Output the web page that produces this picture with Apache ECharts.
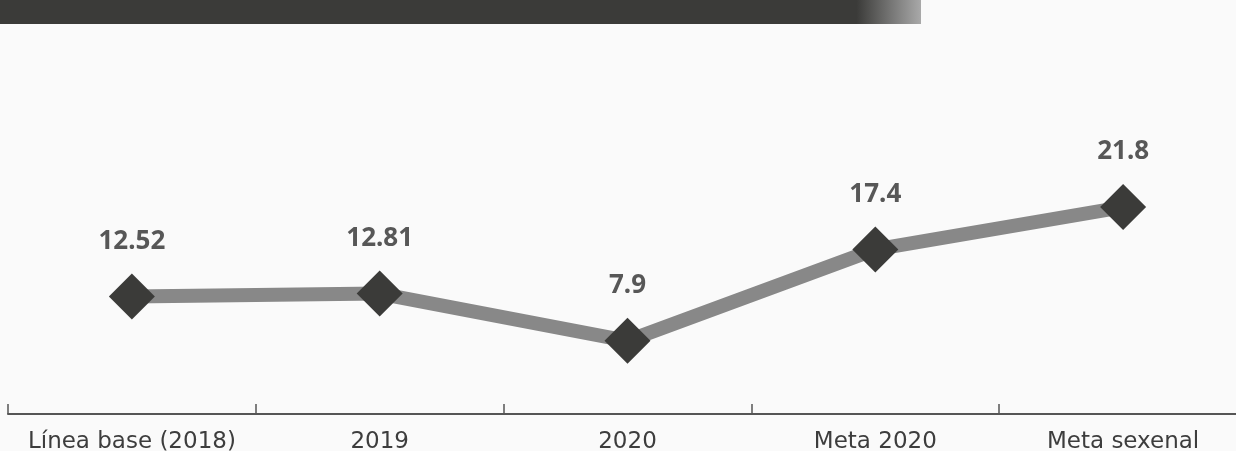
<!DOCTYPE html>
<html>
<head>
<meta charset="utf-8">
<script src="https://cdn.jsdelivr.net/npm/echarts@6/dist/echarts.min.js"></script>
<style>
  html, body { margin: 0; padding: 0; background: #fafafa; }
  #main { width: 1236px; height: 451px; }
</style>
</head>
<body>
<div id="main"></div>
<script>
// categorias y valores
var categorias = ['Línea base (2018)', '2019', '2020', 'Meta 2020', 'Meta sexenal'];
var valores = [12.52, 12.81, 7.9, 17.4, 21.8];

var chart = echarts.init(document.getElementById('main'));

var option = {
    backgroundColor: '#fafafa',
    animation: false,
    // barra oscura arriba
    graphic: [{
        type: 'rect',
        shape: { x: 0, y: 0, width: 921, height: 24 },
        style: {
            fill: new echarts.graphic.LinearGradient(0, 0, 1, 0, [
                { offset: 0, color: '#3b3b39' },
                { offset: 0.93, color: '#3b3b39' },
                { offset: 1, color: '#a9a9a9' }
            ])
        }
    }],
    grid: { left: 8, right: -11, top: 29, bottom: 37, outerBoundsMode: 'none', containLabel: false },
    xAxis: {
        type: 'category',
        data: categorias,
        axisLine: { lineStyle: { color: '#555', width: 2 } },
        axisTick: { show: true, inside: true, interval: 0, alignWithLabel: false, length: 10, lineStyle: { color: '#555', width: 1.5 } },
        axisLabel: {
            interval: 0,
            hideOverlap: false,
            color: '#3d3d3d',
            fontSize: 23,
            fontFamily: 'DejaVu Sans',
            margin: 17
        }
    },
    yAxis: {
        type: 'value',
        min: 0.3,
        max: 40.3,
        show: false,
        splitLine: { show: false }
    },
    series: [{
        type: 'line',
        data: valores,
        symbol: 'diamond',
        symbolSize: 46,
        itemStyle: { color: '#3b3b39' },
        lineStyle: { color: '#888888', width: 14 },
        label: {
            show: true,
            position: 'top',
            distance: 19,
            color: '#575757',
            fontSize: 26,
            fontWeight: 'bold',
            fontFamily: 'Noto Sans'
        }
    }]
};

chart.setOption(option);
</script>
</body>
</html>
